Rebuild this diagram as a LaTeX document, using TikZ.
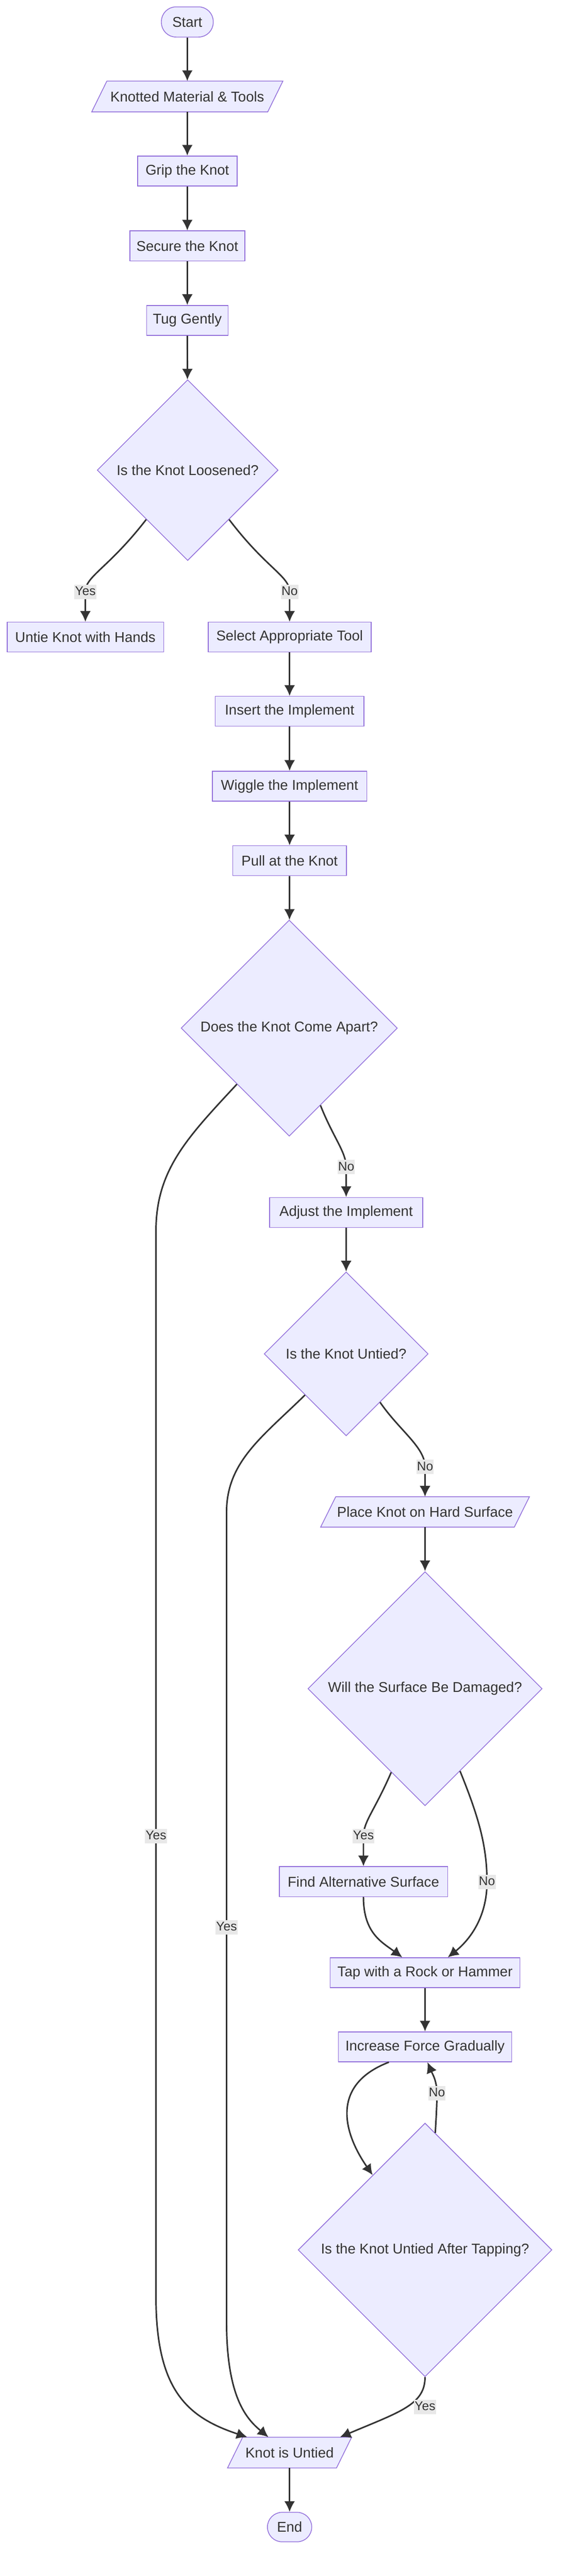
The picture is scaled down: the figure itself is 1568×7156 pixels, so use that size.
\documentclass[tikz,border=0pt]{standalone}
\usepackage{fontspec}
\setmainfont{Liberation Sans}
\usetikzlibrary{shapes.geometric,arrows.meta}
\definecolor{nodefill}{HTML}{ECECFF}
\definecolor{nodeline}{HTML}{9370DB}
\definecolor{edgeline}{HTML}{333333}
\definecolor{lblfill}{HTML}{E8E8E8}
\pgfdeclarelayer{back}
\pgfsetlayers{back,main}

\begin{document}
\begin{tikzpicture}[x=0.01cm, y=-0.01cm, every node/.style={text=edgeline, font=\fontsize{11.2}{13}\selectfont}]
    \tikzstyle{box}=[draw=nodeline, fill=nodefill, semithick, inner sep=0pt, minimum height=0.83cm]
    \tikzstyle{term}=[box, rounded corners=0.41cm]
    \tikzstyle{ask}=[box, diamond, aspect=1]
    \tikzstyle{io}=[inner sep=0pt, minimum height=0.84cm]
    \tikzstyle{iobox}=[draw=nodeline, fill=nodefill, semithick]
    \tikzstyle{farrs}=[very thick, draw=edgeline, -{Latex[length=8.5pt,width=8.5pt]}]
    \tikzstyle{lbl}=[fill=lblfill, inner xsep=0.5pt, inner ysep=0pt, text height=8.5pt, text depth=3pt, font=\fontsize{10}{12}\selectfont]

    \useasboundingbox (0,0) rectangle (1568,7156);

    % first column
    \node[term, minimum width=1.44cm, minimum height=0.84cm] (start) at (520,61) {Start};
    \node[io, minimum width=5.29cm] (mat) at (520,268) {Knotted Material \& Tools};
    \node[box, minimum width=2.76cm] (grip) at (520,475) {Grip the Knot};
    \node[box, minimum width=3.19cm] (secure) at (520,683) {Secure the Knot};
    \node[box, minimum width=2.26cm] (tug) at (520,890) {Tug Gently};
    \node[ask, minimum size=5.02cm] (d1) at (521,1306) {Is the Knot Loosened?};
    \node[box, minimum width=4.34cm] (hands) at (237,1770) {Untie Knot with Hands};

    % tool branch
    \node[box, minimum width=4.52cm] (tool) at (804,1770) {Select Appropriate Tool};
    \node[box, minimum width=4.13cm] (insert) at (804,1976) {Insert the Implement};
    \node[box, minimum width=4.28cm] (wiggle) at (804,2184) {Wiggle the Implement};
    \node[box, minimum width=3.16cm] (pull) at (804,2391) {Pull at the Knot};
    \node[ask, minimum size=6cm] (d2) at (803,2856) {Does the Knot Come Apart?};
    \node[box, minimum width=4.25cm] (adjust) at (961,3368) {Adjust the Implement};
    \node[ask, minimum size=4.55cm] (d3) at (961,3761) {Is the Knot Untied?};

    % surface branch
    \node[io, minimum width=5.78cm, minimum height=0.83cm] (place) at (1180,4200) {Place Knot on Hard Surface};
    \node[ask, minimum size=6.5cm] (d4) at (1180,4691) {Will the Surface Be Damaged?};
    \node[box, minimum width=4.67cm] (alt) at (1009,5227) {Find Alternative Surface};
    \node[box, minimum width=5.26cm] (tap) at (1180,5480) {Tap with a Rock or Hammer};
    \node[box, minimum width=4.8cm] (force) at (1180,5686) {Increase Force Gradually};
    \node[ask, minimum size=7.04cm] (d5) at (1180,6250) {Is the Knot Untied After Tapping?};

    % end
    \node[io, minimum width=3.43cm] (untied) at (804,6813) {Knot is Untied};
    \node[term, minimum width=1.23cm, minimum height=0.82cm] (stop) at (804,7020) {End};

    \begin{pgfonlayer}{back}
        \foreach \n in {mat, place, untied} {
            \draw[iobox] ([xshift=0.42cm]\n.north west) -- (\n.north east) -- ([xshift=-0.42cm]\n.south east) -- (\n.south west) -- cycle;
        }
    \end{pgfonlayer}

    \foreach \a/\b in {start/mat, mat/grip, grip/secure, secure/tug, tug/d1, tool/insert, insert/wiggle, wiggle/pull, pull/d2, adjust/d3, place/d4, tap/force, untied/stop} {
        \draw[farrs] (\a) -- (\b);
    }

    \draw[farrs] (d1.-130) .. controls (300,1580) and (237,1600) .. (237,1644) node[lbl] (yes1) {Yes} -- (hands);
    \draw[farrs] (d1.-50) .. controls (740,1580) and (804,1600) .. (804,1644) node[lbl] (no1) {No} -- (tool);

    \draw[farrs] (d2.-68) .. controls (925,3160) and (961,3200) .. (961,3242) node[lbl] (no2) {No} -- (adjust);
    \draw[farrs] (d2.-133) .. controls (520,3160) and (433,3250) .. (433,3420) -- (433,5101) node[lbl] (yes2) {Yes}
        -- (433,6380) .. controls (433,6640) and (520,6715) .. (untied.160);

    \draw[farrs] (d3.-55) .. controls (1110,3975) and (1180,4020) .. (1180,4075) node[lbl] (no3) {No} -- (place);
    \draw[farrs] (d3.-135) .. controls (730,3990) and (629,4060) .. (629,4200) -- (629,5354) node[lbl] (yes3) {Yes}
        -- (629,6450) .. controls (629,6660) and (685,6720) .. (untied.144);

    \draw[farrs] (d4.-112) .. controls (1040,5030) and (1009,5060) .. (1009,5101) node[lbl] (yes4) {Yes} -- (alt);
    \draw[farrs] (d4.-67) .. controls (1330,5050) and (1352,5130) .. (1352,5228) node[lbl] (no4) {No}
        .. controls (1352,5340) and (1290,5400) .. (tap.34);
    \draw[farrs] (alt.south) .. controls (1009,5370) and (1060,5395) .. (tap.146);

    \draw[farrs] (force.-157) .. controls (920,5790) and (950,5920) .. (d5.125);
    \draw[farrs] (d5.85) .. controls (1211,5880) and (1213,5850) .. (1213,5815) node[lbl] (no5) {No}
        .. controls (1213,5780) and (1200,5760) .. (force.-81);
    \draw[farrs] (d5.south) .. controls (1180,6680) and (1110,6700) .. (untied.17);
    \node[lbl] (yes5) at (1180,6686) {Yes};

\end{tikzpicture}
\end{document}
